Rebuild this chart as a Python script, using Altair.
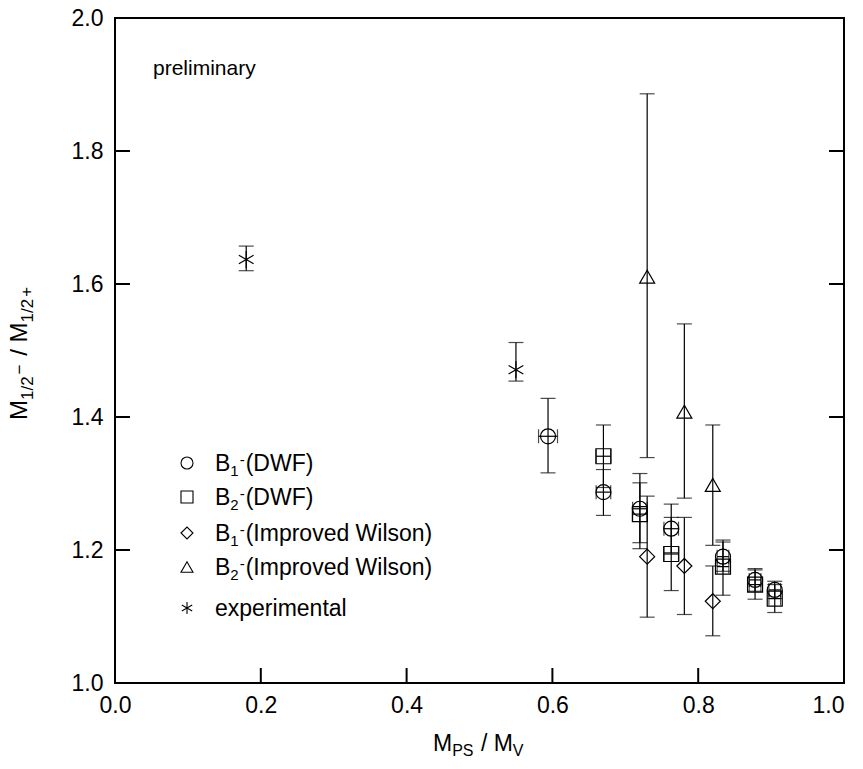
import altair as alt
import pandas as pd

# ---------------- data ----------------
b1_dwf_x    = [0.594, 0.670, 0.720, 0.763, 0.834, 0.878, 0.905]
b1_dwf_y    = [1.371, 1.287, 1.262, 1.232, 1.190, 1.155, 1.140]
b1_dwf_lo   = [1.316, 1.252, 1.211, 1.196, 1.168, 1.138, 1.127]
b1_dwf_hi   = [1.428, 1.321, 1.315, 1.269, 1.212, 1.172, 1.153]
b1_dwf_xerr = [0.013, 0.010, 0.010, 0.010, 0.008, 0.008, 0.008]

b2_dwf_x    = [0.670, 0.720, 0.763, 0.834, 0.878, 0.905]
b2_dwf_y    = [1.341, 1.254, 1.194, 1.175, 1.148, 1.127]
b2_dwf_lo   = [1.294, 1.202, 1.139, 1.132, 1.126, 1.106]
b2_dwf_hi   = [1.388, 1.301, 1.249, 1.215, 1.170, 1.148]
b2_dwf_xerr = [0.010, 0.010, 0.010, 0.008, 0.008, 0.008]

b1_iw_x  = [0.730, 0.781, 0.820]
b1_iw_y  = [1.190, 1.176, 1.123]
b1_iw_lo = [1.099, 1.103, 1.071]
b1_iw_hi = [1.281, 1.249, 1.176]

b2_iw_x  = [0.730, 0.781, 0.820]
b2_iw_y  = [1.611, 1.408, 1.298]
b2_iw_lo = [1.339, 1.278, 1.207]
b2_iw_hi = [1.886, 1.540, 1.388]

exp_x  = [0.180, 0.550]
exp_y  = [1.637, 1.471]
exp_lo = [1.620, 1.454]
exp_hi = [1.657, 1.512]

x_ticks = [0.0, 0.2, 0.4, 0.6, 0.8, 1.0]
y_ticks = [1.0, 1.2, 1.4, 1.6, 1.8, 2.0]

legend_labels = [
    [("B", 23, 0), ("1", 15, 5), ("-", 15, -6), ("(DWF)", 23, 0)],
    [("B", 23, 0), ("2", 15, 5), ("-", 15, -6), ("(DWF)", 23, 0)],
    [("B", 23, 0), ("1", 15, 5), ("-", 15, -6), ("(Improved Wilson)", 23, 0)],
    [("B", 23, 0), ("2", 15, 5), ("-", 15, -6), ("(Improved Wilson)", 23, 0)],
    [("experimental", 23, 0)],
]

# ---------------- styling ----------------
FONT = "Liberation Sans"
W, H = 729, 665
ASTERISK = "M0,-1L0,1M-0.866,-0.5L0.866,0.5M-0.866,0.5L0.866,-0.5"
SHAPES = ["circle", "square", "diamond", "triangle-up", ASTERISK]

xs = alt.Scale(domain=[0, 1], nice=False, zero=False)
ys = alt.Scale(domain=[1, 2], nice=False, zero=False)
AX = alt.Axis(values=x_ticks, format=".1f", title=None, grid=False, domain=False,
              ticks=False, tickSize=0, labelPadding=11, labelFont=FONT, labelFlush=False,
              labelAlign={"expr": "datum.value >= 1 ? 'right' : 'center'"},
              labelFontSize=23, labelColor="black")
AY = alt.Axis(values=y_ticks, format=".1f", title=None, grid=False, domain=False,
              ticks=False, tickSize=0, labelPadding=12, labelFont=FONT, labelFlush=False,
              labelFontSize=23, labelColor="black")

CW = {"M": .833, "P": .667, "S": .667, "V": .667, " ": .278, "/": .278, "B": .667,
      "(": .333, ")": .333, "D": .722, "W": .944, "F": .611, "I": .278, "m": .833,
      "p": .556, "r": .333, "o": .556, "v": .5, "e": .556, "d": .556, "i": .222,
      "l": .222, "s": .5, "n": .556, "x": .5, "t": .278, "a": .556, "\u2212": .584,
      "+": .584, "-": .333}


def tw(s, size):
    return sum(CW.get(c, 0.556) for c in s) * size


one = pd.DataFrame({"a": [0]})


def rich(segs, x0, y0, vertical=False, gap=1.0):
    layers = []
    pos = 0.0
    for text, size, shift in segs:
        lead = len(text) - len(text.lstrip(" "))
        pos += lead * CW[" "] * size
        text = text.lstrip(" ")
        if vertical:
            px, py, ang = x0 + shift, y0 - pos, 270
        else:
            px, py, ang = x0 + pos, y0 + shift, 0
        layers.append(
            alt.Chart(one).mark_text(text=text, fontSize=size, font=FONT, align="left",
                                     baseline="alphabetic", angle=ang, color="black")
            .encode(x=alt.value(px), y=alt.value(py))
        )
        pos += tw(text, size) + (gap if size < 20 else 0)
    return layers


def frame(x, y, lo, hi, xerr=None):
    d = pd.DataFrame({"x": x, "y": y, "lo": lo, "hi": hi})
    if xerr is not None:
        d["xlo"] = [a - e for a, e in zip(x, xerr)]
        d["xhi"] = [a + e for a, e in zip(x, xerr)]
    return d


def X(f):
    return alt.X(f, scale=xs, axis=AX)


def Y(f):
    return alt.Y(f, scale=ys, axis=AY)


series = [
    (frame(b1_dwf_x, b1_dwf_y, b1_dwf_lo, b1_dwf_hi, b1_dwf_xerr), SHAPES[0], 225),
    (frame(b2_dwf_x, b2_dwf_y, b2_dwf_lo, b2_dwf_hi, b2_dwf_xerr), SHAPES[1], 225),
    (frame(b1_iw_x, b1_iw_y, b1_iw_lo, b1_iw_hi), SHAPES[2], 225),
    (frame(b2_iw_x, b2_iw_y, b2_iw_lo, b2_iw_hi), SHAPES[3], 225),
    (frame(exp_x, exp_y, exp_lo, exp_hi), SHAPES[4], 289),
]

layers = []

# inward ticks
xt = pd.DataFrame({"v": x_ticks})
yt = pd.DataFrame({"v": y_ticks})
TL = 15
layers.append(alt.Chart(xt).mark_rule(color="black", strokeWidth=2).encode(
    x=X("v:Q"), y=alt.value(H), y2=alt.value(H - TL)))
layers.append(alt.Chart(yt).mark_rule(color="black", strokeWidth=2).encode(
    y=Y("v:Q"), x=alt.value(0), x2=alt.value(TL)))
layers.append(alt.Chart(yt).mark_rule(color="black", strokeWidth=2).encode(
    y=Y("v:Q"), x=alt.value(W), x2=alt.value(W - TL)))

# error bars and markers
for d, shape, size in series:
    base = alt.Chart(d)
    layers.append(base.mark_rule(color="black", strokeWidth=1.2).encode(
        x=X("x:Q"), y=Y("lo:Q"), y2="hi:Q"))
    for f in ["lo", "hi"]:
        layers.append(base.mark_tick(orient="horizontal", size=15, thickness=1.2, color="black").encode(
            x=X("x:Q"), y=Y(f + ":Q")))
    if "xlo" in d.columns:
        layers.append(base.mark_rule(color="black", strokeWidth=1.2).encode(
            x=X("xlo:Q"), x2="xhi:Q", y=Y("y:Q")))
        for f in ["xlo", "xhi"]:
            layers.append(base.mark_tick(orient="vertical", size=14, thickness=1.2, color="black").encode(
                x=X(f + ":Q"), y=Y("y:Q")))
    layers.append(base.mark_point(shape=shape, size=size, filled=False, color="black",
                                  strokeWidth=1.2, opacity=1).encode(
        x=X("x:Q"), y=Y("y:Q")))

# legend (manual)
LX, LTX = 72, 100
LY = [445, 479, 515, 549, 590]
for i, (shape, segs) in enumerate(zip(SHAPES, legend_labels)):
    layers.append(alt.Chart(one).mark_point(shape=shape, size=144, filled=False, color="black",
                                            strokeWidth=1.1, opacity=1).encode(
        x=alt.value(LX), y=alt.value(LY[i])))
    layers += rich(segs, LTX, LY[i] + 8)

# annotation
layers.append(alt.Chart(one).mark_text(text="preliminary", fontSize=21, font=FONT, align="left",
                                       baseline="alphabetic", color="black").encode(
    x=alt.value(38), y=alt.value(57)))

# axis titles
xt_segs = [("M", 23, 0), ("PS", 16, 5), (" / M", 23, 0), ("V", 16, 5)]
layers += rich(xt_segs, 318, 733)
yt_segs = [("M", 24, 0), ("1/2", 17, 6), ("\u2212", 17, -2), (" / M", 24, 0), ("1/2", 17, 6), ("+", 17, 5)]
layers += rich(yt_segs, -88, 402, vertical=True, gap=2.0)

chart = alt.layer(*layers).properties(
    width=W, height=H,
    padding={"left": 107, "top": 10, "right": 11, "bottom": 78},
    autosize=alt.AutoSizeParams(type="none"),
).configure_view(stroke="black", strokeWidth=2)

chart.save("out.html", embed_options={"renderer": "svg", "actions": False})
